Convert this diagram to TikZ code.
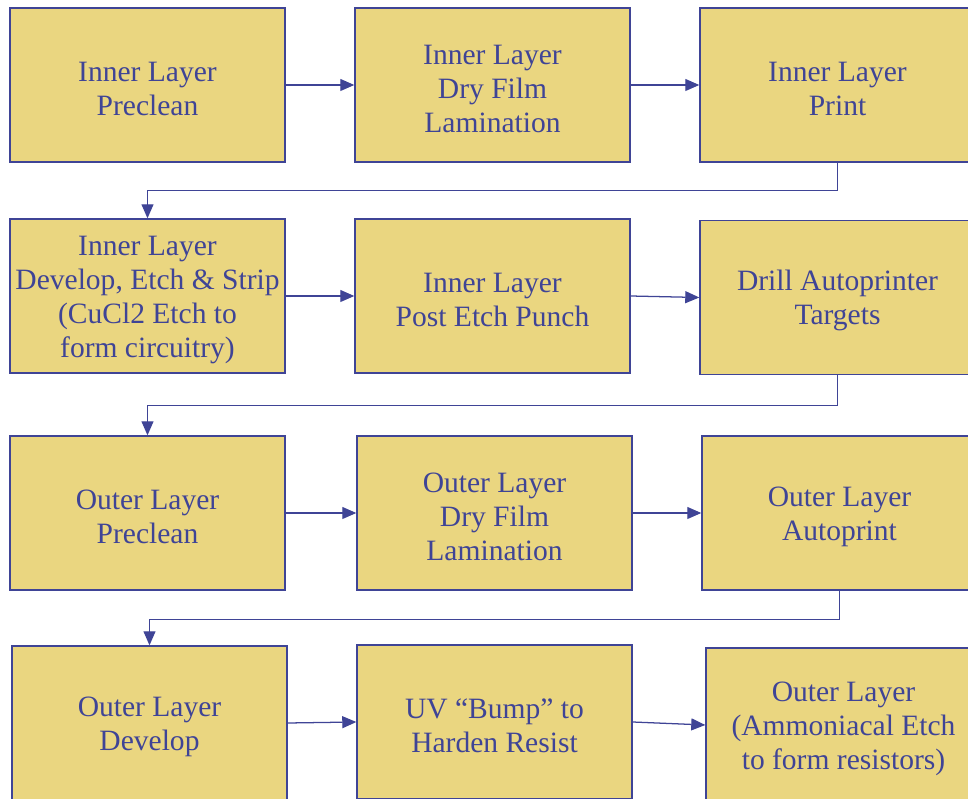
\documentclass[tikz,border=0pt]{standalone}
\usepackage{fontspec}
\setmainfont{Liberation Serif}
\usetikzlibrary{arrows.meta}
\definecolor{stepfill}{HTML}{EAD680}
\definecolor{navy}{HTML}{3F4496}
\newcommand{\steplift}{\rule{0pt}{19pt}}
\begin{document}
\begin{tikzpicture}[x=0.025cm,y=-0.025cm,
  stepbox/.style={draw=navy,fill=stepfill,line width=0.9pt,minimum width=6.875cm,minimum height=3.85cm,
    align=center,text=navy,font=\fontsize{21}{24.2}\selectfont,inner sep=0pt},
  flow/.style={draw=navy,line width=0.9pt,-{Triangle[length=10pt,width=8.5pt]}}]
\useasboundingbox (0,0) rectangle (968,799);
% row 1
\node[stepbox] (ilpre) at (147.5,85) {\steplift Inner Layer\\Preclean};
\node[stepbox] (ildry) at (492.5,85) {\steplift Inner Layer\\Dry Film\\Lamination};
\node[stepbox] (ilprint) at (837.5,85) {\steplift Inner Layer\\Print};
% row 2
\node[stepbox] (ildev) at (147.5,296) {\steplift Inner Layer\\Develop, Etch \& Strip\\(CuCl2 Etch to\\form circuitry)};
\node[stepbox] (ilpunch) at (492.5,296) {\steplift Inner Layer\\Post Etch Punch};
\node[stepbox] (drill) at (837.5,297.5) {\steplift Drill Autoprinter\\Targets};
% row 3
\node[stepbox] (olpre) at (147.5,513) {\steplift Outer Layer\\Preclean};
\node[stepbox] (oldry) at (494.5,513) {\steplift Outer Layer\\Dry Film\\Lamination};
\node[stepbox] (olprint) at (839.5,513) {\steplift Outer Layer\\Autoprint};
% row 4
\node[stepbox] (oldev) at (149.5,723) {\steplift Outer Layer\\Develop};
\node[stepbox] (uvbump) at (494.5,722) {\steplift UV “Bump” to\\Harden Resist};
\node[stepbox] (oletch) at (843.5,725) {\steplift Outer Layer\\(Ammoniacal Etch\\to form resistors)};
% connectors
\draw[flow] (ilpre) -- (ildry);
\draw[flow] (ildry) -- (ilprint);
\draw[flow] (ilprint.south) -- ++(0,28) -| (ildev.north);
\draw[flow] (ildev) -- (ilpunch);
\draw[flow] (ilpunch.east) -- (drill.west);
\draw[flow] (drill.south) -- ++(0,30) -| (olpre.north);
\draw[flow] (olpre) -- (oldry);
\draw[flow] (oldry) -- (olprint);
\draw[flow] (olprint.south) -- ++(0,29) -| (oldev.north);
\draw[flow] (oldev.east) -- (uvbump.west);
\draw[flow] (uvbump.east) -- (oletch.west);
\end{tikzpicture}
\end{document}
